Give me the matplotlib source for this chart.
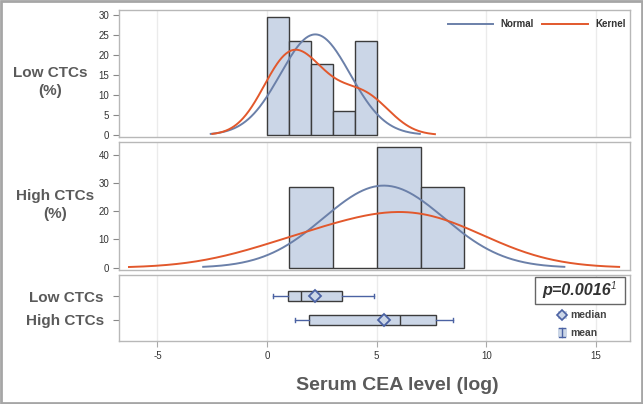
import numpy as np
import matplotlib
matplotlib.use('Agg')
import matplotlib.pyplot as plt
from matplotlib.patches import Rectangle

plt.rcParams['font.family'] = ['Liberation Sans', 'DejaVu Sans']

# serum CEA (log) per patient, estimated from histogram bins and box stats
low_ctc = [0.28, 0.40, 0.60, 0.80, 0.96, 1.15, 1.30, 1.45, 1.55,
           2.10, 2.40, 2.70, 3.42, 4.20, 4.50, 4.70, 4.88]
high_ctc = [1.28, 1.93, 5.40, 6.07, 6.40, 7.70, 8.48]
low_bins = [0, 1, 2, 3, 4, 5]
high_bins = [1, 3, 5, 7, 9]
# kernel bandwidths
low_bw = 1.11
high_bw = 3.03
group_names = ['Low CTCs', 'High CTCs']
xticks = [-5, 0, 5, 10, 15]
p_text = 'p=0.0016'

BAR = '#cbd6e7'
EDGE = '#3c3c3c'
NORM = '#6b80a9'
KERN = '#e2582c'
WHISK = '#4b62a3'
SPINE = '#b8b8b8'
GRID = '#ebebeb'
LAB = '#5a5a5a'

W, H = 643, 404
fig = plt.figure(figsize=(W / 100, H / 100), dpi=100)


def box(x0, y0, x1, y1):
    return [x0 / W, 1 - y1 / H, (x1 - x0) / W, (y1 - y0) / H]


ax1 = fig.add_axes(box(119, 10, 630, 137))
ax2 = fig.add_axes(box(119, 142, 630, 270))
ax3 = fig.add_axes(box(119, 275, 630, 341))

xlim = (-6.75, 16.55)


def style(ax):
    ax.set_xlim(*xlim)
    ax.set_xticks(xticks)
    for s in ax.spines.values():
        s.set_color(SPINE)
        s.set_linewidth(1)
    ax.grid(axis='x', color=GRID, lw=1)
    ax.set_axisbelow(True)
    ax.tick_params(axis='both', labelsize=7, colors='#333333', length=4,
                   width=0.8, pad=3)
    ax.tick_params(axis='y', color='#888888')
    ax.tick_params(axis='x', color='#aaaaaa')


def kde(data, h, xs):
    d = np.asarray(data)
    z = (xs[:, None] - d[None, :]) / h
    return np.exp(-0.5 * z ** 2).sum(axis=1) / (len(d) * h * np.sqrt(2 * np.pi))


def hist_panel(ax, data, bins, bw):
    data = np.asarray(data)
    bins = np.asarray(bins)
    width = bins[1] - bins[0]
    counts, edges = np.histogram(data, bins=bins)
    pct = counts / len(data) * 100
    ax.bar(edges[:-1], pct, width=width, align='edge', color=BAR,
           edgecolor=EDGE, linewidth=1, zorder=2)
    m, sd = data.mean(), data.std(ddof=1)
    xs = np.linspace(m - 3 * sd, m + 3 * sd, 300)
    pdf = np.exp(-0.5 * ((xs - m) / sd) ** 2) / (sd * np.sqrt(2 * np.pi))
    ax.plot(xs, pdf * width * 100, color=NORM, lw=1.4, zorder=3)
    xk = np.linspace(data.min() - 2.5 * bw, data.max() + 2.5 * bw, 300)
    ax.plot(xk, kde(data, bw, xk) * width * 100, color=KERN, lw=1.4, zorder=4)


hist_panel(ax1, low_ctc, low_bins, low_bw)
style(ax1)
ax1.set_ylim(-0.5, 31.2)
ax1.set_yticks([0, 5, 10, 15, 20, 25, 30])
ax1.tick_params(axis='x', labelbottom=False, length=0)

hist_panel(ax2, high_ctc, high_bins, high_bw)
style(ax2)
ax2.set_ylim(-0.8, 44.5)
ax2.set_yticks([0, 10, 20, 30, 40])
ax2.tick_params(axis='x', labelbottom=False, length=0)

# legend for the curves
ax1.plot([0.644, 0.732], [0.89, 0.89], color=NORM, lw=1.4, transform=ax1.transAxes)
ax1.text(0.746, 0.89, 'Normal', transform=ax1.transAxes, fontsize=7,
         fontweight='bold', color='#333333', va='center')
ax1.plot([0.828, 0.918], [0.89, 0.89], color=KERN, lw=1.4, transform=ax1.transAxes)
ax1.text(0.933, 0.89, 'Kernel', transform=ax1.transAxes, fontsize=7,
         fontweight='bold', color='#333333', va='center')

# box plots
stats = []
for name, d in zip(group_names, [low_ctc, high_ctc]):
    d = np.asarray(d)
    q1, med, q3 = np.percentile(d, [25, 50, 75], method='averaged_inverted_cdf')
    stats.append(dict(label=name, whislo=d.min(), q1=q1, med=med, q3=q3,
                      whishi=d.max(), mean=d.mean(), fliers=[]))
ax3.bxp(stats, positions=[1, 2], vert=False, widths=0.44, showmeans=True,
        patch_artist=True, manage_ticks=False,
        boxprops=dict(facecolor=BAR, edgecolor=EDGE, linewidth=1),
        medianprops=dict(color=EDGE, linewidth=1),
        whiskerprops=dict(color=WHISK, linewidth=1),
        capprops=dict(color=WHISK, linewidth=1),
        capwidths=0.16,
        meanprops=dict(marker='D', markersize=6, markerfacecolor=BAR,
                       markeredgecolor=WHISK, markeredgewidth=1.3))
style(ax3)
ax3.set_ylim(2.875, 0.125)
ax3.set_yticks([1, 2])
ax3.set_yticklabels(group_names, fontsize=11, fontweight='bold', color=LAB)
ax3.tick_params(axis='y', pad=7)
ax3.set_xticklabels([str(t) for t in xticks])
ax3.set_xlabel('Serum CEA level (log)', fontsize=14, fontweight='bold',
               color=LAB, labelpad=8)
ax3.xaxis.set_label_coords(0.545, -0.55)

# p-value box and box legend
ax3.add_patch(Rectangle((0.814, 0.56), 0.176, 0.41, transform=ax3.transAxes,
                        facecolor='white', edgecolor='#666666', lw=1, zorder=5))
ax3.text(0.828, 0.765, p_text, transform=ax3.transAxes, fontsize=11.6,
         fontweight='bold', fontstyle='italic', color='#333333', va='center',
         zorder=6)
ax3.text(0.963, 0.84, '1', transform=ax3.transAxes, fontsize=7,
         fontstyle='italic', color='#333333', va='center', zorder=6)
ax3.add_patch(Rectangle((0.859, 0.33), 0.017, 0.13, transform=ax3.transAxes,
                        facecolor=BAR, edgecolor='none', zorder=5))
ax3.plot([0.867], [0.394], marker='D', markersize=5, markerfacecolor=BAR,
         markeredgecolor=WHISK, markeredgewidth=1.2, transform=ax3.transAxes,
         zorder=6)
ax3.text(0.884, 0.394, 'median', transform=ax3.transAxes, fontsize=7.5,
         fontweight='bold', color='#444444', va='center')
ax3.add_patch(Rectangle((0.859, 0.06), 0.017, 0.13, transform=ax3.transAxes,
                        facecolor=BAR, edgecolor='none', zorder=5))
ax3.plot([0.867, 0.867], [0.06, 0.19], color=WHISK, lw=1, transform=ax3.transAxes, zorder=6)
ax3.plot([0.861, 0.873], [0.06, 0.06], color=WHISK, lw=1, transform=ax3.transAxes, zorder=6)
ax3.plot([0.861, 0.873], [0.19, 0.19], color=WHISK, lw=1, transform=ax3.transAxes, zorder=6)
ax3.text(0.884, 0.12, 'mean', transform=ax3.transAxes, fontsize=7.5,
         fontweight='bold', color='#444444', va='center')

# row labels
fig.text(50 / W, 1 - 82 / H, 'Low CTCs\n(%)', ha='center', va='center',
         fontsize=11, fontweight='bold', color=LAB, linespacing=1.3)
fig.text(55 / W, 1 - 205 / H, 'High CTCs\n(%)', ha='center', va='center',
         fontsize=11, fontweight='bold', color=LAB, linespacing=1.3)

# outer frame
fig.patches.append(Rectangle((0.002, 0.003), 0.996, 0.994, transform=fig.transFigure,
                             facecolor='none', edgecolor='#a6a6a6', lw=2))

fig.savefig('out.png', dpi=100)
